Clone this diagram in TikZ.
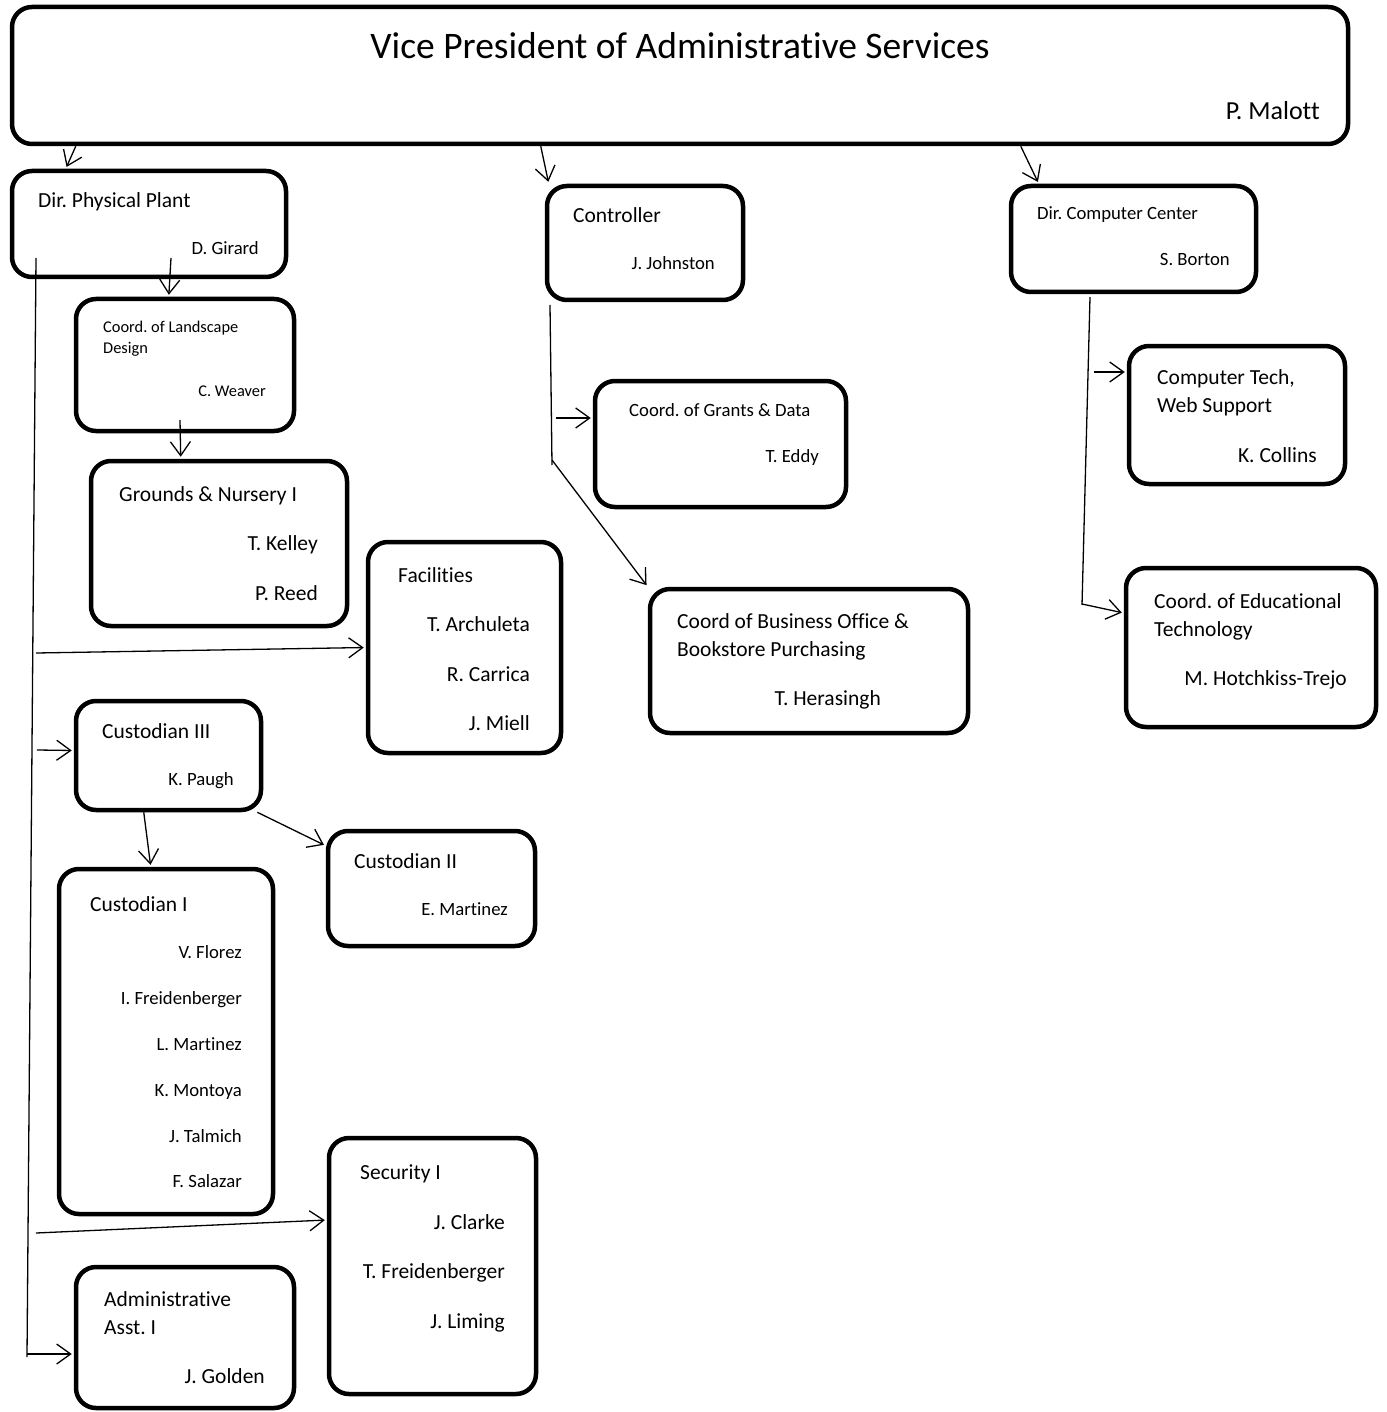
\documentclass[tikz,border=0pt]{standalone}
\usepackage{fontspec}
\setmainfont{Carlito}[Ligatures=NoCommon]
\usetikzlibrary{arrows.meta,positioning}
\frenchspacing

\begin{document}
\begin{tikzpicture}[x=1pt, y=-1pt,
	box/.style={draw, line width=4.5pt, rounded corners=20pt, inner sep=0pt},
	conn/.style={line width=1.3pt, -{Straight Barb[length=14pt, width=20pt]}, shorten >=2pt},
	spine/.style={line width=1.3pt},
	txt/.style={inner sep=0pt, anchor=base west, font=\fontsize{21.5}{26}\selectfont},
	stxt/.style={txt, font=\fontsize{18.7}{22}\selectfont},
	xstxt/.style={txt, font=\fontsize{16.4}{20}\selectfont},
	nm/.style={txt, anchor=base east},
	snm/.style={stxt, anchor=base east},
	xsnm/.style={xstxt, anchor=base east}]
	\useasboundingbox (0,0) rectangle (1386,1412);

	% boxes
	\node (vp) at (680,75.5) [box, minimum width=1336pt, minimum height=137pt] {};
	\node (plant) at (149,224) [box, minimum width=274pt, minimum height=106pt] {};
	\node (ctrl) at (645,243) [box, minimum width=196pt, minimum height=114pt] {};
	\node (comp) at (1133.5,239) [box, minimum width=245pt, minimum height=106pt] {};
	\node (land) at (185,365) [box, minimum width=218pt, minimum height=132pt] {};
	\node (grounds) at (219,543.5) [box, minimum width=256pt, minimum height=165pt] {};
	\node (fac) at (464.5,647.5) [box, minimum width=193pt, minimum height=211pt] {};
	\node (grants) at (720.5,444) [box, minimum width=251pt, minimum height=126pt] {};
	\node (bus) at (809,661) [box, minimum width=318pt, minimum height=144pt] {};
	\node (tech) at (1237,415) [box, minimum width=216pt, minimum height=138pt] {};
	\node (edu) at (1251,647.5) [box, minimum width=250pt, minimum height=159pt] {};
	\node (cust3) at (168.5,755.5) [box, minimum width=185pt, minimum height=109pt] {};
	\node (cust2) at (431.5,888.5) [box, minimum width=207pt, minimum height=115pt] {};
	\node (cust1) at (166,1041.5) [box, minimum width=214pt, minimum height=345pt] {};
	\node (sec) at (432.5,1266) [box, minimum width=207pt, minimum height=256pt] {};
	\node (admin) at (185,1337.5) [box, minimum width=218pt, minimum height=141pt] {};

	% texts
	\node (vpT) at (680,59) [txt, anchor=base, font=\fontsize{37.5}{44}\selectfont] {Vice President of Administrative Services};
	\node (vpN) at (1320,120) [nm, font=\fontsize{26}{30}\selectfont] {P. Malott};
	\node (plantT) at (38,208) [txt] {Dir. Physical Plant};
	\node (plantN) at (259,255) [snm] {D. Girard};
	\node (ctrlT) at (573,223) [txt] {Controller};
	\node (ctrlN) at (715,270) [snm] {J. Johnston};
	\node (compT) at (1037,220) [stxt] {Dir. Computer Center};
	\node (compN) at (1230,266) [snm] {S. Borton};
	\node (landT) at (103,332) [xstxt] {Coord. of Landscape};
	\node (landT2) at (103,353) [xstxt] {Design};
	\node (landN) at (266,396) [xsnm] {C. Weaver};
	\node (groundsT) at (119,501) [txt] {Grounds \& Nursery I};
	\node (groundsN1) at (318,550) [nm] {T. Kelley};
	\node (groundsN2) at (318,600) [nm] {P. Reed};
	\node (facT) at (398,582) [txt] {Facilities};
	\node (facN1) at (530,631) [nm] {T. Archuleta};
	\node (facN2) at (530,681) [nm] {R. Carrica};
	\node (facN3) at (530,730) [nm] {J. Miell};
	\node (grantsT) at (629,416) [stxt] {Coord. of Grants \& Data};
	\node (grantsN) at (819,462) [snm] {T. Eddy};
	\node (busT) at (677,628) [txt] {Coord of Business Office \&};
	\node (busT2) at (677,656) [txt] {Bookstore Purchasing};
	\node (busN) at (881,705) [nm] {T. Herasingh};
	\node (techT) at (1157,384) [txt] {Computer Tech,};
	\node (techT2) at (1157,412) [txt] {Web Support};
	\node (techN) at (1317,462) [nm] {K. Collins};
	\node (eduT) at (1154,608) [txt] {Coord. of Educational};
	\node (eduT2) at (1154,636) [txt] {Technology};
	\node (eduN) at (1347,685) [nm] {M. Hotchkiss-Trejo};
	\node (cust3T) at (102,738) [txt] {Custodian III};
	\node (cust3N) at (234,785) [snm] {K. Paugh};
	\node (cust2T) at (354,868) [txt] {Custodian II};
	\node (cust2N) at (508,915) [snm] {E. Martinez};
	\node (cust1T) at (90,911) [txt] {Custodian I};
	\node (cust1N1) at (242,958) [snm] {V. Florez};
	\node (cust1N2) at (242,1004) [snm] {I. Freidenberger};
	\node (cust1N3) at (242,1050) [snm] {L. Martinez};
	\node (cust1N4) at (242,1096) [snm] {K. Montoya};
	\node (cust1N5) at (242,1142) [snm] {J. Talmich};
	\node (cust1N6) at (242,1187) [snm] {F. Salazar};
	\node (secT) at (360,1179) [txt] {Security I};
	\node (secN1) at (505,1229) [nm] {J. Clarke};
	\node (secN2) at (505,1278) [nm] {T. Freidenberger};
	\node (secN3) at (505,1328) [nm] {J. Liming};
	\node (adminT) at (104,1306) [txt] {Administrative};
	\node (adminT2) at (104,1334) [txt] {Asst. I};
	\node (adminN) at (265,1383) [nm] {J. Golden};

	% free ends of the lines
	\coordinate (pp1) at (171,258);
	\coordinate (ld1) at (180,420);
	\coordinate (sp1) at (36,258);
	\coordinate (sp2) at (27,1357);
	\coordinate (spF) at (36,653);
	\coordinate (spC) at (37,750);
	\coordinate (spS) at (36,1233);
	\coordinate (spA) at (27,1354);
	\coordinate (ct1) at (550,305);
	\coordinate (ct2) at (552,465);
	\coordinate (ctG) at (556,418);
	\coordinate (ctB) at (552,460);
	\coordinate (cc1) at (1090,297);
	\coordinate (cc2) at (1082,605);
	\coordinate (ccT) at (1094,372);
	\coordinate (ccE) at (1082,604);

	% connectors
	\draw [conn] ([xshift=66pt]vp.south west) -- ([xshift=56pt]plant.north west);
	\draw [conn] ([xshift=531pt]vp.south west) -- ([xshift=4pt]ctrl.north west);
	\draw [conn] ([xshift=1011pt]vp.south west) -- ([xshift=30pt]comp.north west);
	\draw [conn] (pp1) -- ([xshift=95pt]land.north west);
	\draw [conn] (ld1) -- ([xshift=92pt]grounds.north west);

	\draw [spine] (sp1) -- (sp2);
	\draw [conn] (spF) -- (fac.west);
	\draw [conn] (spC) -- ([yshift=5pt]cust3.west);
	\draw [conn] (spS) -- ([yshift=46pt]sec.west);
	\draw [conn] (spA) -- ([yshift=-16.5pt]admin.west);
	\draw [conn] ([xshift=70pt]cust3.south west) -- ([xshift=94pt]cust1.north west);
	\draw [conn] ([xshift=-6pt]cust3.south east) -- ([yshift=-17pt]cust2.north west);

	\draw [spine] (ct1) -- (ct2);
	\draw [conn] (ctG) -- ([yshift=26pt]grants.west);
	\draw [conn] (ctB) -- (bus.north west);

	\draw [spine] (cc1) -- (cc2);
	\draw [conn] (ccT) -- ([yshift=43pt]tech.west);
	\draw [conn] (ccE) -- ([yshift=34.5pt]edu.west);
\end{tikzpicture}
\end{document}
